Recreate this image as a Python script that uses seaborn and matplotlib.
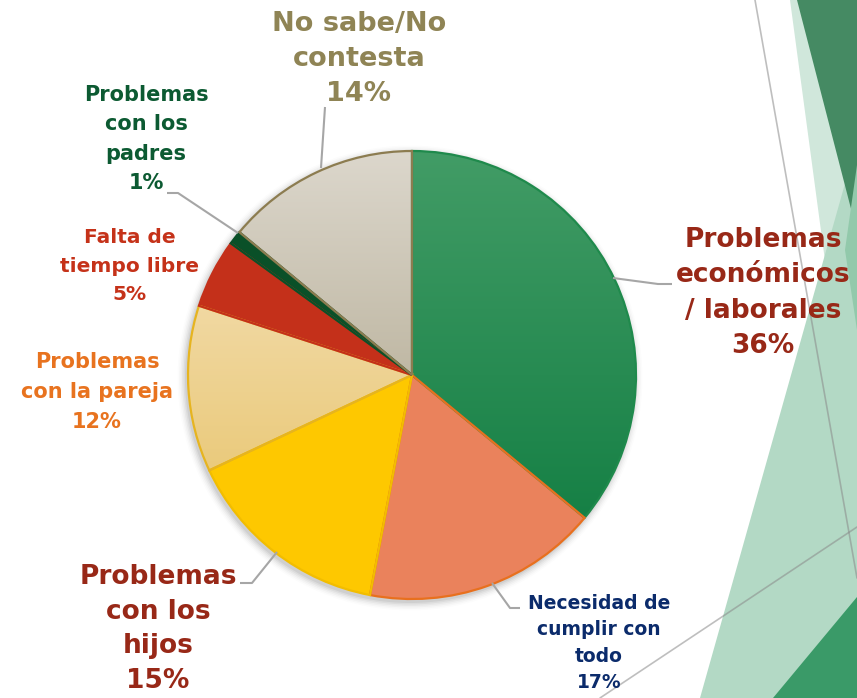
import numpy as np
import matplotlib
matplotlib.use("Agg")
import matplotlib.pyplot as plt
from matplotlib.patches import Polygon, Wedge
from matplotlib.colors import to_rgb
import seaborn as sns

# ---- data ----
categories = ["Problemas\neconómicos\n/ laborales", "Necesidad de\ncumplir con\ntodo",
              "Problemas\ncon los\nhijos", "Problemas\ncon la pareja",
              "Falta de\ntiempo libre", "Problemas\ncon los\npadres", "No sabe/No\ncontesta"]
values = [36, 17, 15, 12, 5, 1, 14]
pct_labels = ["36%", "17%", "15%", "12%", "5%", "1%", "14%"]

face_colors = ["#1f8a4c", "#ea825c", "#fec800", "#efd394", "#c4301a", "#0a5028", "#c4bead"]
edge_colors = ["#1f8a4c", "#e8701e", "#f2bd00", "#e6b420", "#c4301a", "#0a5028", "#8c7c50"]
gradients = {0: ("#429c66", "#0c7a3e"), 3: ("#f7e6c6", "#e5bf5e"), 6: ("#dcd7cc", "#a3997c")}
text_colors = ["#982817", "#0b2b6b", "#982817", "#e8731f", "#c53219", "#0c5a32", "#8f8455"]
font_sizes = [19, 13.5, 19, 15, 14.5, 15, 19.5]
line_spacings = [1.47, 1.5, 1.44, 1.62, 1.66, 1.6, 1.47]

# ---- layout (pixel coords, y downwards) ----
W, H = 857, 698
def P(x, y):
    return (x, H - y)

label_pos = [(763, 293), (599, 643), (158, 629), (97, 392), (130, 266), (146, 139), (359, 59)]
leaders = [
    [(613, 278), (658, 284), (672, 284)],
    [(492, 583), (510, 608), (520, 608)],
    [(277, 552), (252, 583), (240, 583)],
    None, None,
    [(238, 233), (178, 193), (167, 193)],
    [(321, 168), (325, 107)],
]

sns.set_theme(style="white")
plt.rcParams['font.family'] = ['DejaVu Sans']
palette = sns.color_palette(face_colors)

fig = plt.figure(figsize=(W / 100, H / 100), dpi=100)
ax = fig.add_axes([0, 0, 1, 1])
fig.patch.set_facecolor("white")

# background decoration
bg_shapes = [
    ([(790, 0), (857, 0), (857, 499)], "#d0e7db"),
    ([(700, 698), (857, 141), (857, 698)], "#b3d9c5"),
    ([(797, 0), (857, 0), (857, 232)], "#458a63"),
    ([(857, 165), (845, 250), (857, 330)], "#92c9ab"),
    ([(773, 698), (857, 597), (857, 698)], "#3a9a68"),
]
for pts, col in bg_shapes:
    ax.add_patch(Polygon([P(*p) for p in pts], closed=True, facecolor=col, edgecolor="none", zorder=0))
for (a, b) in [((755, 0), (857, 578)), ((600, 698), (857, 527))]:
    ax.plot(*zip(P(*a), P(*b)), color="#8a8a8a", lw=1.2, alpha=0.55, zorder=0.5)

cx, cy = P(412, 375)
R = 224

# soft shadow
for k, a in enumerate(np.linspace(0.05, 0.01, 6)):
    ax.add_patch(plt.Circle((cx - 2, cy - 3), R + 1 + k * 1.5, color="black", alpha=a, lw=0, zorder=1))

wedges, _ = ax.pie(values, colors=palette, startangle=90, counterclock=False,
                   center=(cx, cy), radius=R,
                   wedgeprops=dict(linewidth=0, zorder=2))

for i, w in enumerate(wedges):
    w.set_zorder(2)
    if i in gradients:
        c1, c2 = np.array(to_rgb(gradients[i][0])), np.array(to_rgb(gradients[i][1]))
        t = np.linspace(0, 1, 256)[:, None, None]
        img = c1[None, None, :] * (1 - t) + c2[None, None, :] * t
        im = ax.imshow(img, extent=(cx - R, cx + R, cy - R, cy + R), origin="upper",
                       aspect="auto", zorder=2.5, interpolation="bilinear")
        im.set_clip_path(w)
    ax.add_patch(Wedge(w.center, w.r, w.theta1, w.theta2, fill=False,
                       edgecolor=edge_colors[i], lw=1.6, zorder=3))

# leaders
for ld in leaders:
    if ld:
        xs, ys = zip(*[P(*p) for p in ld])
        ax.plot(xs, ys, color="#a6a6a6", lw=1.5, zorder=3.5, solid_capstyle="butt")

# labels
for i, (cat, pct) in enumerate(zip(categories, pct_labels)):
    x, y = P(*label_pos[i])
    ax.text(x, y, cat + "\n" + pct, ha="center", va="center", color=text_colors[i],
            fontsize=font_sizes[i], fontweight="bold", linespacing=line_spacings[i], zorder=5,
            family=["DejaVu Sans"])

ax.set_xlim(0, W)
ax.set_ylim(0, H)
ax.set_aspect("equal")
ax.axis("off")
fig.savefig("out.png", dpi=100, facecolor="white")
